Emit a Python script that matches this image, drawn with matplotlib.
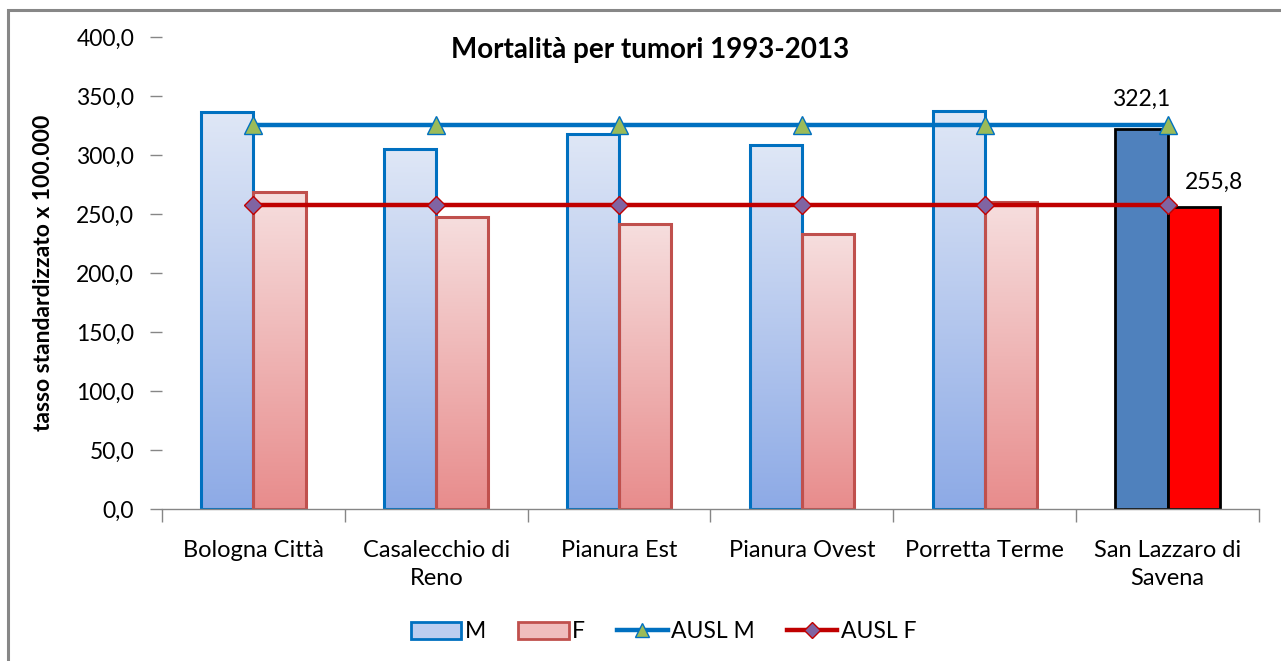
import numpy as np
import matplotlib
matplotlib.use("Agg")
import matplotlib.pyplot as plt
from matplotlib.colors import LinearSegmentedColormap
from matplotlib.patches import Rectangle, Patch
from matplotlib.lines import Line2D
from matplotlib.ticker import FuncFormatter, FixedLocator

plt.rcParams['font.family'] = ['Lato', 'DejaVu Sans']

# data
categories = ["Bologna Città", "Casalecchio di\nReno", "Pianura Est", "Pianura Ovest",
              "Porretta Terme", "San Lazzaro di\nSavena"]
m_vals = [336.4, 305.0, 317.8, 308.5, 337.0, 322.1]
f_vals = [268.6, 247.5, 241.5, 233.0, 260.0, 255.8]
ausl_m = [325.4] * 6
ausl_f = [257.8] * 6
highlight = 5  # San Lazzaro is drawn in solid colours

fig = plt.figure(figsize=(12.81, 6.61), dpi=100)
ax = fig.add_axes([162/1281, 1 - 509/661, (1259 - 162)/1281, (509 - 37)/661])

# outer frame of the chart
fig.patches.append(Rectangle((8/1281, -0.05), 1.1, 1 - 10/661 + 0.05, transform=fig.transFigure,
                             fill=False, edgecolor='#878787', linewidth=2.2, zorder=0))

cmap_m = LinearSegmentedColormap.from_list('m', ['#8DAAE6', '#DFE7F6'])
cmap_f = LinearSegmentedColormap.from_list('f', ['#E88C8C', '#F6DEDE'])
grad = np.linspace(0, 1, 256).reshape(-1, 1)

x = np.arange(len(categories))
w = 0.285

for i in x:
    for val, off, cmap, edge, solid in [(m_vals[i], -w/2, cmap_m, '#0070C0', '#4F81BD'),
                                         (f_vals[i], w/2, cmap_f, '#C0504D', '#FF0000')]:
        x0 = i + off - w/2
        if i == highlight:
            ax.add_patch(Rectangle((x0, 0), w, val, facecolor=solid, edgecolor='black',
                                   linewidth=2, zorder=2))
        else:
            ax.imshow(grad, extent=[x0, x0 + w, 0, val], origin='lower', aspect='auto',
                      cmap=cmap, zorder=1, interpolation='bilinear')
            ax.add_patch(Rectangle((x0, 0), w, val, facecolor='none', edgecolor=edge,
                                   linewidth=2.2, zorder=2))

ax.plot(x, ausl_m, color='#0070C0', linewidth=3.2, marker='^', markersize=13,
        markerfacecolor='#9BBB59', markeredgecolor='#0070C0', markeredgewidth=1, zorder=4)
ax.plot(x, ausl_f, color='#C00000', linewidth=3.2, marker='D', markersize=9.5,
        markerfacecolor='#8064A2', markeredgecolor='#C00000', markeredgewidth=1, zorder=4)

fmt = lambda v: f"{v:.1f}".replace('.', ',')
ax.annotate(fmt(m_vals[highlight]), (highlight - w/2, m_vals[highlight]), xytext=(0, 14),
            textcoords='offset points', ha='center', va='bottom', fontsize=16.5)
ax.annotate(fmt(f_vals[highlight]), (highlight + w/2, f_vals[highlight]), xytext=(15, 10),
            textcoords='offset points', ha='center', va='bottom', fontsize=16.5)

ax.set_xlim(-0.5, len(categories) - 0.5)
ax.set_ylim(0, 400)
ax.set_yticks(np.arange(0, 401, 50))
ax.yaxis.set_major_formatter(FuncFormatter(lambda v, p: fmt(v)))
ax.set_xticks(x)
ax.set_xticklabels(categories, fontsize=17, linespacing=1.45)
ax.xaxis.set_minor_locator(FixedLocator(np.arange(-0.5, len(categories), 1)))
ax.tick_params(axis='x', which='major', length=0, pad=22)
ax.tick_params(axis='x', which='minor', length=9, color='#868686', width=1)
ax.tick_params(axis='y', length=9, color='#868686', width=1, labelsize=16.5, pad=11)

for s in ['top', 'right', 'left']:
    ax.spines[s].set_visible(False)
ax.spines['bottom'].set_color('#868686')
ax.spines['bottom'].set_linewidth(1)

ax.set_ylabel("tasso standardizzato x 100.000", fontsize=16.5, fontweight='bold', labelpad=16)
fig.text(650/1281, 1 - 50/661, "Mortalità per tumori 1993-2013", fontsize=20,
         fontweight='bold', ha='center', va='center')

handles = [Patch(facecolor='#BCCDF0', edgecolor='#0070C0', linewidth=2),
           Patch(facecolor='#F0BDBD', edgecolor='#C0504D', linewidth=2),
           Line2D([], [], color='#0070C0', linewidth=3.2, marker='^', markersize=10,
                  markerfacecolor='#9BBB59', markeredgecolor='#0070C0'),
           Line2D([], [], color='#C00000', linewidth=3.2, marker='D', markersize=8,
                  markerfacecolor='#8064A2', markeredgecolor='#C00000')]
fig.legend(handles, ["M", "F", "AUSL M", "AUSL F"], loc='center', bbox_to_anchor=(0.518, 1 - 632/661),
           ncol=4, frameon=False, fontsize=16.5, handlelength=2.2, handletextpad=0.15,
           columnspacing=1.4)

fig.savefig("out.png", dpi=100)
